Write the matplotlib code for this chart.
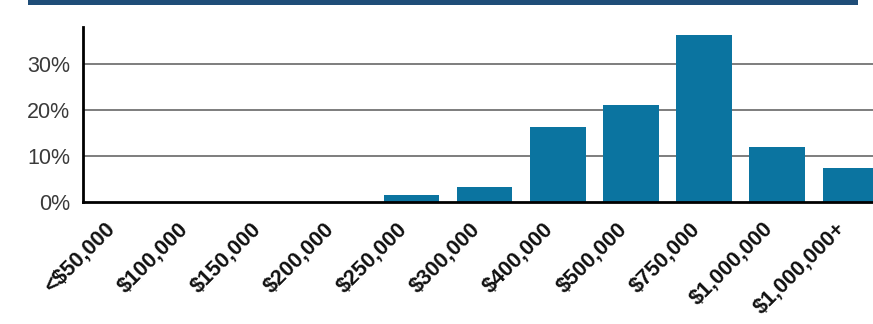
import matplotlib
matplotlib.use("Agg")
import matplotlib.pyplot as plt
from matplotlib.patches import Rectangle

categories = ["<$50,000", "$100,000", "$150,000", "$200,000", "$250,000", "$300,000",
              "$400,000", "$500,000", "$750,000", "$1,000,000", "$1,000,000+"]
values = [0, 0, 0, 0, 1.5, 3.1, 16.2, 21.1, 36.3, 11.9, 7.4]
yticks = [0, 10, 20, 30]
ytick_labels = ["0%", "10%", "20%", "30%"]

W, H = 873, 324
fig = plt.figure(figsize=(W / 100, H / 100), dpi=100)
fig.patch.set_facecolor("white")

# top banner
fig.patches.append(Rectangle((28 / W, 1 - 5 / H), (858 - 28) / W, 5 / H,
                             transform=fig.transFigure, facecolor="#1f4d78",
                             edgecolor="none", zorder=5))

ax = fig.add_axes([83 / W, 1 - 201.7 / H, 1 - 83 / W, (201.7 - 27) / H])
x = list(range(len(categories)))
ax.bar(x, values, width=0.76, color="#0b74a0", zorder=3)

ax.set_xlim(-0.49, 10.31)
ax.set_ylim(0, 38.1)
ax.set_yticks(yticks)
ax.set_yticklabels(ytick_labels, fontfamily="Liberation Sans", fontsize=15.5, color="#3a3a3a")
for yv in yticks[1:]:
    ax.axhline(yv, color="#5a5a5a", linewidth=1.1, zorder=1)

ax.set_xticks(x)
ax.set_xticklabels(categories, rotation=45, ha="right", va="top",
                   fontfamily="Liberation Sans", fontweight="bold", fontsize=15.5,
                   color="#111111")
ax.tick_params(axis="both", length=0)
ax.tick_params(axis="y", pad=9)
ax.tick_params(axis="x", pad=12)

for s in ["top", "right"]:
    ax.spines[s].set_visible(False)
ax.spines["left"].set_linewidth(2)
ax.spines["bottom"].set_linewidth(2)
ax.spines["left"].set_color("black")
ax.spines["bottom"].set_color("black")
ax.spines["bottom"].set_zorder(4)

fig.savefig("out.png", dpi=100)
